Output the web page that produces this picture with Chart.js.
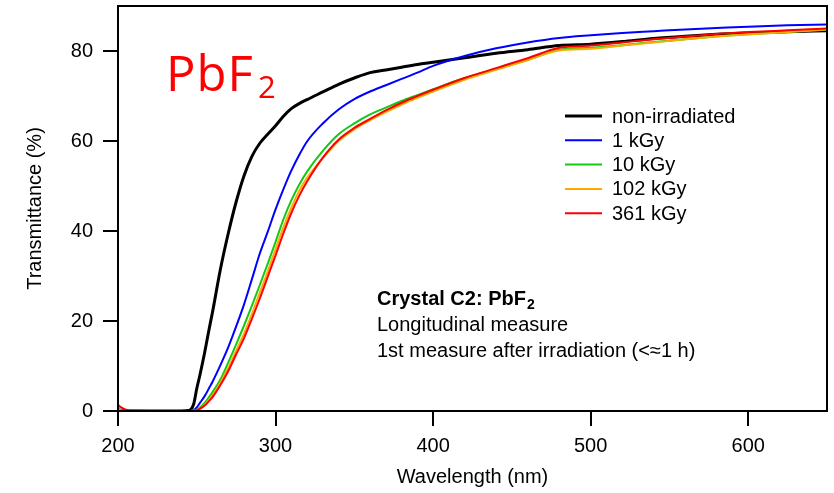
<!DOCTYPE html>
<html>
<head>
<meta charset="utf-8">
<script src="https://cdn.jsdelivr.net/npm/chart.js@4.4.1/dist/chart.umd.min.js"></script>
<style>
  html, body { margin: 0; padding: 0; background: #fff; }
  #wrap { width: 834px; height: 493px; }
</style>
</head>
<body>
<div id="wrap"><canvas id="transChart" width="834" height="493"></canvas></div>
<script>
// wavelength grid (nm), shared by all spectra
const wavelengths = [200, 202, 205, 210, 220, 230, 240, 245, 248, 250,
                     252, 255, 258, 260, 265, 270, 275, 280, 285, 290,
                     295, 300, 305, 310, 315, 320, 330, 340, 350, 360,
                     370, 380, 390, 400, 420, 440, 460, 480, 500, 520,
                     540, 560, 580, 600, 625, 650];

// transmittance (%)
const nonIrradiated = [0.3, 0.1, 0, 0, 0, 0, 0, 0.1, 1.5, 5,
                       8, 13, 18.5, 22, 31.5, 39.5, 46.5, 52.3, 56.6, 59.5,
                       61.5, 63.4, 65.5, 67.2, 68.3, 69.2, 70.9, 72.6, 74, 75.2,
                       75.8, 76.4, 77, 77.5, 78.5, 79.5, 80.3, 81.2, 81.5, 82.1,
                       82.8, 83.3, 83.7, 84, 84.3, 84.5];
const dose1 = [0.3, 0.1, 0, 0, 0, 0, 0, 0, 0.2, 0.8,
               1.8, 3.3, 5.2, 6.5, 10.2, 14.2, 18.8, 23.7, 29.3, 35,
               39.8, 44.8, 49.3, 53.4, 56.9, 59.9, 63.9, 67, 69.3, 71,
               72.4, 73.8, 75.2, 76.7, 78.9, 80.6, 81.9, 82.9, 83.5, 84,
               84.4, 84.8, 85.1, 85.4, 85.7, 85.9];
const dose10 = [0.2, 0.1, 0, 0, 0, 0, 0, 0, 0.1, 0.3,
                0.8, 1.8, 3.2, 4.2, 7, 10.8, 14.8, 19, 23.4, 28,
                32.7, 37.6, 42.6, 46.8, 50.3, 53.2, 57.8, 61.5, 63.9, 65.9,
                67.4, 68.9, 70.2, 71.5, 74, 76, 78, 80.3, 80.7, 81.3,
                82, 82.6, 83.3, 83.7, 84.2, 84.7];
const dose102 = [0.3, 0.1, 0, 0, 0, 0, 0, 0, 0.05, 0.25,
                 0.6, 1.4, 2.6, 3.5, 6.3, 9.6, 13.4, 17.2, 21.6, 26.3,
                 31, 36, 40.8, 45.2, 48.9, 51.8, 56.2, 60, 62.6, 64.6,
                 66.4, 68.1, 69.6, 71, 73.6, 75.8, 78, 80.1, 80.5, 81.2,
                 81.9, 82.6, 83.2, 83.7, 84.2, 84.8];
const dose361 = [1.4, 0.8, 0.3, 0.1, 0, 0, 0, 0, 0.05, 0.2,
                 0.5, 1.2, 2.3, 3.1, 5.8, 8.9, 12.6, 16.2, 20.5, 25,
                 29.8, 34.6, 39.5, 44, 47.8, 51, 56.3, 60.3, 62.9, 64.9,
                 66.8, 68.5, 70, 71.4, 74, 76.2, 78.4, 80.7, 81.2, 81.9,
                 82.6, 83.2, 83.8, 84.2, 84.6, 85];

const seriesLabels = ['non-irradiated', '1 kGy', '10 kGy', '102 kGy', '361 kGy'];
const seriesValues = [nonIrradiated, dose1, dose10, dose102, dose361];
const xTicks = [200, 300, 400, 500, 600];
const yTicks = [0, 20, 40, 60, 80];

const seriesColors = ['#000000', '#0000ff', '#14c814', '#ffaa00', '#ff0000'];
const seriesWidths = [3, 2, 2, 2, 2];

const FONT = "'Liberation Sans', Arial, sans-serif";
Chart.defaults.font.family = FONT;
Chart.defaults.font.size = 20;
Chart.defaults.color = '#000';

// box around the plot area
const framePlugin = {
    id: 'frame',
    afterDraw(chart) {
        const { ctx, chartArea: a } = chart;
        ctx.save();
        ctx.strokeStyle = '#000';
        ctx.lineWidth = 2;
        ctx.strokeRect(a.left, a.top, a.right - a.left, a.bottom - a.top);
        ctx.restore();
    }
};

// legend drawn inside the plot
const legendPlugin = {
    id: 'insideLegend',
    afterDatasetsDraw(chart) {
        const ctx = chart.ctx;
        const x0 = 565, x1 = 602, tx = 612, y0 = 116, step = 24.3;
        ctx.save();
        ctx.font = '20px ' + FONT;
        ctx.textBaseline = 'middle';
        ctx.fillStyle = '#000';
        chart.data.datasets.forEach(function(ds, i) {
            const y = y0 + i * step;
            ctx.strokeStyle = ds.borderColor;
            ctx.lineWidth = ds.borderWidth;
            ctx.beginPath();
            ctx.moveTo(x0, y);
            ctx.lineTo(x1, y);
            ctx.stroke();
            ctx.fillText(ds.label, tx, y + 1);
        });
        ctx.restore();
    }
};

// text annotations
const notesPlugin = {
    id: 'notes',
    afterDatasetsDraw(chart) {
        const ctx = chart.ctx;
        ctx.save();
        ctx.textBaseline = 'alphabetic';

        // big red PbF2
        ctx.fillStyle = '#ff0000';
        ctx.font = "49px 'Open Sans', sans-serif";
        ctx.letterSpacing = '1px';
        ctx.fillText('PbF', 166, 91);
        ctx.letterSpacing = '0px';
        ctx.font = "31px 'Open Sans', sans-serif";
        ctx.fillText('2', 258, 98);

        // crystal description
        ctx.fillStyle = '#000';
        ctx.font = 'bold 20px ' + FONT;
        ctx.fillText('Crystal C2: PbF', 377, 305);
        const wb = ctx.measureText('Crystal C2: PbF').width;
        ctx.font = 'bold 14px ' + FONT;
        ctx.fillText('2', 377 + wb + 1, 309);
        ctx.font = '20px ' + FONT;
        ctx.fillText('Longitudinal measure', 377, 331);
        ctx.fillText('1st measure after irradiation (<\u22481 h)', 377, 357);
        ctx.restore();
    }
};

function noPad(scale) {
    scale.paddingTop = 0;
    scale.paddingBottom = 0;
    scale.paddingLeft = 0;
    scale.paddingRight = 0;
}

const ctx = document.getElementById('transChart').getContext('2d');
new Chart(ctx, {
    type: 'line',
    data: {
        datasets: seriesLabels.map(function(label, i) {
            return {
                label: label,
                data: wavelengths.map(function(w, j) { return { x: w, y: seriesValues[i][j] }; }),
                borderColor: seriesColors[i],
                backgroundColor: seriesColors[i],
                borderWidth: seriesWidths[i],
                pointRadius: 0,
                cubicInterpolationMode: 'monotone',
                fill: false,
                order: seriesLabels.length - i
            };
        })
    },
    options: {
        responsive: false,
        animation: false,
        devicePixelRatio: 1,
        layout: { padding: { top: 6, right: 7, left: 0, bottom: 0 } },
        plugins: {
            legend: { display: false },
            tooltip: { enabled: false }
        },
        scales: {
            x: {
                type: 'linear',
                min: 200,
                max: 650,
                afterBuildTicks: function(scale) {
                    scale.ticks = xTicks.map(function(v) { return { value: v }; });
                },
                afterFit: function(scale) { scale.height = 82; noPad(scale); },
                grid: { drawOnChartArea: false, drawTicks: true, tickLength: 15, color: '#000', lineWidth: 2 },
                border: { display: true, color: '#000', width: 2 },
                ticks: { padding: 8, maxRotation: 0, font: { size: 20 } },
                title: { display: true, text: 'Wavelength (nm)', font: { size: 20 }, padding: { top: 0, bottom: 4 } }
            },
            y: {
                type: 'linear',
                min: 0,
                max: 90,
                afterBuildTicks: function(scale) {
                    scale.ticks = yTicks.map(function(v) { return { value: v }; });
                },
                afterFit: function(scale) { scale.width = 118; noPad(scale); },
                grid: { drawOnChartArea: false, drawTicks: true, tickLength: 15, color: '#000', lineWidth: 2 },
                border: { display: true, color: '#000', width: 2 },
                ticks: { padding: 10, font: { size: 20 } },
                title: { display: true, text: 'Transmittance (%)', font: { size: 20 }, padding: { top: 23, bottom: 0 } }
            }
        }
    },
    plugins: [framePlugin, legendPlugin, notesPlugin]
});
</script>
</body>
</html>
